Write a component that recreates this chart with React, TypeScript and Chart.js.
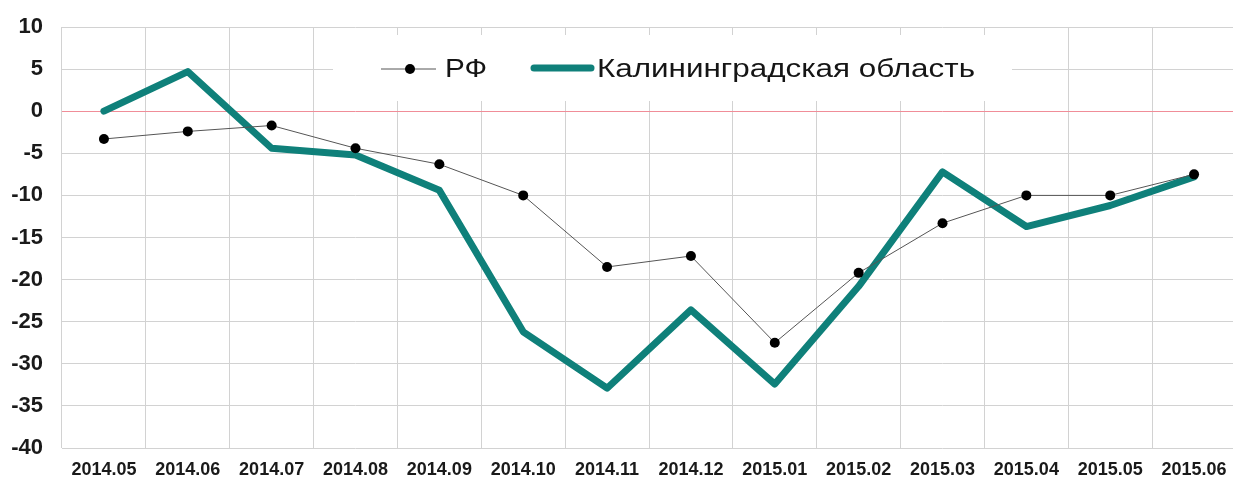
import React, { useEffect, useRef } from "react";
import { Chart, registerables } from "chart.js";

Chart.register(...registerables);

const categories = [
  "2014.05", "2014.06", "2014.07", "2014.08", "2014.09", "2014.10", "2014.11",
  "2014.12", "2015.01", "2015.02", "2015.03", "2015.04", "2015.05", "2015.06",
];
const rfValues = [-3.3, -2.4, -1.7, -4.4, -6.3, -10.0, -18.5, -17.2, -27.5, -19.2, -13.3, -10.0, -10.0, -7.5];
const kalValues = [0, 4.7, -4.4, -5.2, -9.4, -26.2, -32.9, -23.6, -32.4, -20.8, -7.2, -13.7, -11.2, -7.8];
const yMin = -40;
const yMax = 10;
const yStep = 5;
const rfLabel = "РФ";
const kalLabel = "Калининградская область";

const TEAL = "#0f807a";
const FONT = 'Arial, "Liberation Sans", sans-serif';

function drawStretched(ctx: any, text: string, x: number, y: number, targetWidth: number) {
  const w = ctx.measureText(text).width;
  const sx = targetWidth / w;
  ctx.save();
  ctx.translate(x, y);
  ctx.scale(sx, 1);
  ctx.fillText(text, 0, 0);
  ctx.restore();
}

const legendPlugin = {
  id: "insideLegend",
  afterDatasetsDraw(chart: any) {
    const { ctx, chartArea } = chart;
    const y = chartArea.top + 42;
    ctx.save();
    ctx.fillStyle = "#ffffff";
    ctx.fillRect(333, chartArea.top + 8, 1012 - 333, 66);
    ctx.strokeStyle = "#555555";
    ctx.lineWidth = 1;
    ctx.beginPath();
    ctx.moveTo(381, y);
    ctx.lineTo(436, y);
    ctx.stroke();
    ctx.fillStyle = "#000000";
    ctx.beginPath();
    ctx.arc(410, y, 5, 0, Math.PI * 2);
    ctx.fill();
    ctx.font = `25px ${FONT}`;
    ctx.fillStyle = "#151515";
    ctx.textBaseline = "middle";
    ctx.textAlign = "left";
    drawStretched(ctx, rfLabel, 445, y + 1, 42);
    ctx.strokeStyle = TEAL;
    ctx.lineWidth = 7;
    ctx.lineCap = "round";
    ctx.beginPath();
    ctx.moveTo(534, y - 1);
    ctx.lineTo(591, y - 1);
    ctx.stroke();
    ctx.fillStyle = "#151515";
    drawStretched(ctx, kalLabel, 597, y + 1, 378);
    ctx.restore();
  },
};

export default function App() {
  const ref = useRef<HTMLCanvasElement | null>(null);
  useEffect(() => {
    document.body.style.margin = "0";
    const canvas = ref.current;
    if (!canvas) return;
    const chart = new Chart(canvas, {
      type: "line",
      data: {
        labels: categories,
        datasets: [
          {
            label: rfLabel,
            data: rfValues,
            borderColor: "#555555",
            borderWidth: 1,
            pointRadius: 5,
            pointBackgroundColor: "#000000",
            pointBorderColor: "#000000",
            pointBorderWidth: 0,
            tension: 0,
          },
          {
            label: kalLabel,
            data: kalValues,
            borderColor: TEAL,
            borderWidth: 7,
            pointRadius: 0,
            tension: 0,
            borderJoinStyle: "round",
            borderCapStyle: "round",
          },
        ],
      },
      options: {
        animation: false,
        responsive: false,
        layout: { padding: { top: 27, right: 0, left: 0, bottom: 0 } },
        plugins: {
          legend: { display: false },
          tooltip: { enabled: false },
        },
        scales: {
          x: {
            offset: true,
            grid: { offset: true, color: "#d2d2d2", lineWidth: 1, drawTicks: false },
            border: { display: false },
            ticks: {
              font: { family: FONT, size: 18, weight: "bold" },
              color: "#1a1a1a",
              padding: 11,
              maxRotation: 0,
              autoSkip: false,
            },
            afterFit(scale: any) {
              scale.height = 31;
            },
          },
          y: {
            min: yMin,
            max: yMax,
            grid: {
              color: (c: any) => (c.tick && c.tick.value === 0 ? "#f08d98" : "#d2d2d2"),
              lineWidth: 1,
              drawTicks: true,
              tickLength: 19,
              tickColor: "rgba(0,0,0,0)",
            },
            border: { display: false },
            ticks: {
              stepSize: yStep,
              font: { family: FONT, size: 22, weight: "bold" },
              color: "#1a1a1a",
              padding: 0,
            },
            afterFit(scale: any) {
              scale.width = 62;
            },
          },
        },
      },
      plugins: [legendPlugin],
    });
    return () => chart.destroy();
  }, []);
  return (
    <div style={{ width: 1233, height: 479, overflow: "hidden", background: "#fff" }}>
      <canvas ref={ref} width={1241} height={479} />
    </div>
  );
}
